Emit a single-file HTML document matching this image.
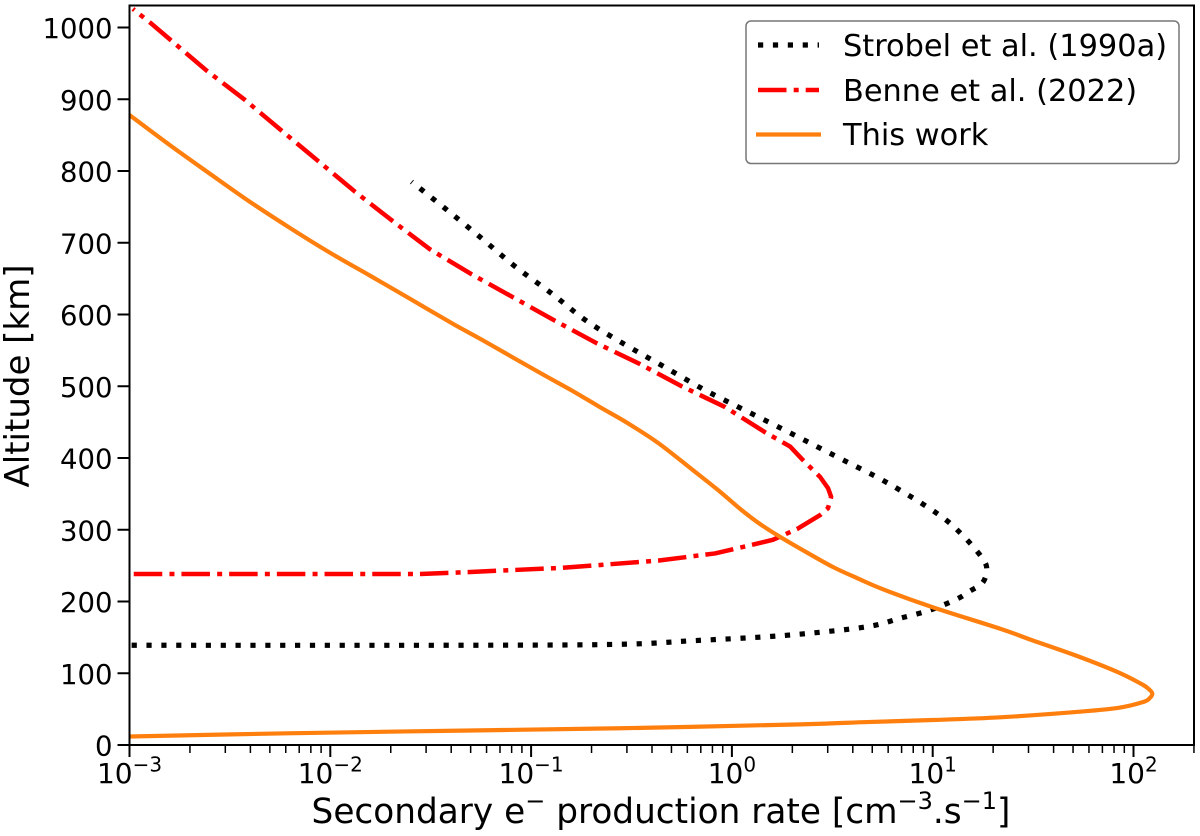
<!DOCTYPE html>
<html lang="en">
<head>
<meta charset="utf-8">
<title>Secondary electron production rate vs altitude</title>
<style>
html,body{margin:0;padding:0;background:#fff;}
svg{display:block;font-family:"DejaVu Sans","Liberation Sans",sans-serif;fill:#000;}
</style>
</head>
<body>
<svg id="chart" width="1200" height="836" viewBox="0 0 1200 836" xmlns="http://www.w3.org/2000/svg">
  <defs>
    <clipPath id="plot-clip"><rect x="129.5" y="5.5" width="1064.5" height="739.5"></rect></clipPath>
  </defs>
  <g id="series" clip-path="url(#plot-clip)"></g>
  <g id="ticks"></g>
  <rect x="129.5" y="5.5" width="1064.5" height="739.5" fill="none" stroke="#000" stroke-width="2"></rect>

  <text x="29" y="376" font-size="34" text-anchor="middle" transform="rotate(-90 29 376)">Altitude [km]</text>
  <text x="661" y="823" font-size="34.3" text-anchor="middle">Secondary e<tspan dy="-14" font-size="24">−</tspan><tspan dy="14"> production rate [cm</tspan><tspan dy="-14" font-size="24">−3</tspan><tspan dy="14">.s</tspan><tspan dy="-14" font-size="24">−1</tspan><tspan dy="14">]</tspan></text>

  <g>
    <rect x="746" y="21" width="433" height="142.5" rx="5" ry="5" fill="#fff" fill-opacity="0.9" stroke="#777" stroke-width="1.5"></rect>
    <line x1="758" y1="45" x2="819" y2="45" stroke="#000" stroke-width="5.2" stroke-dasharray="5.2 9.7"></line>
    <text x="843" y="56" font-size="30.4">Strobel et al. (1990a)</text>
    <line x1="758" y1="90" x2="819" y2="90" stroke="#f00" stroke-width="4.5" stroke-dasharray="28.5 7.2 5 7"></line>
    <text x="843" y="101" font-size="30.4">Benne et al. (2022)</text>
    <line x1="756" y1="134.5" x2="821" y2="134.5" stroke="#ff7f0e" stroke-width="4.2"></line>
    <text x="843" y="145" font-size="30.4">This work</text>
  </g>
</svg>
<script>
const strobelRate = [0.000957,0.00116,0.0408,0.274,0.640,1.51,2.96,4.97,6.87,9.70,13.2,15.2,17.7,18.6,17.5,13.9,10.6,5.98,3.26,1.77,0.960,0.708,0.454,0.294,0.189,0.127,0.0832,0.0568,0.0380,0.0254];
const strobelAltitude = [139,139,139,140.3,145.4,151,158,166,176.6,188,203.5,214,226,245,262,294,322,365,403,441,478,497,528,558,591,629,667,706,746,785];
const benneRate = [0.00105,0.0280,0.0485,0.144,0.429,0.824,1.26,1.60,2.11,2.75,3.01,3.12,3.01,2.75,2.26,1.95,1.46,0.925,0.562,0.348,0.212,0.132,0.0813,0.0506,0.0313,0.0205,0.0133,0.00869,0.00568,0.00376,0.00242,0.00129,0.00104];
const benneAltitude = [238.3,238.3,241,247,257,267,279,286,301,320.5,330,346,358,373.5,397,416,436,471,500,531,560,591,624,656,691,730,771,814,857,899,940,1005,1026];
const thisWorkRate = [0.001,0.00159,0.00252,0.00398,0.00630,0.00998,0.0158,0.0249,0.0408,0.0575,0.111,0.162,0.220,0.301,0.429,0.640,0.873,1.10,1.38,1.74,2.34,3.19,4.25,5.66,10.0,21.7,31.3,52.4,82.8,108,118,124,121,112,82.8,46.7,21.7,10,4.71,2.19,0.277,0.0408,0.00608,0.001];
const thisWorkAltitude = [878,836,796,757,720.6,686,654,622,587,564,518.5,493,471,449,421,383,353,329,308,290,269,248,232,217,192,162,146,124,102,86,79,72,66,60,51.5,45,38.6,34.8,32,28.8,23.3,19.9,16.3,11.8];
const yTickValues = [0,100,200,300,400,500,600,700,800,900,1000];
const xTickExponents = [-3,-2,-1,0,1,2];
const xTickLabels = ['−3','−2','−1','0','1','2'];
const xMinorMultipliers = [2,3,4,5,6,7,8,9];

const NS = 'http://www.w3.org/2000/svg';
function xScale(v){ return 129.5 + (Math.log10(v) + 3) * 200.8; }
function yScale(a){ return 745 - a * 0.7175; }

const seriesLayer = document.getElementById('series');
const tickLayer = document.getElementById('ticks');

function polylinePath(pts){
  return pts.map(function(p,i){ return (i ? 'L' : 'M') + p[0].toFixed(2) + ' ' + p[1].toFixed(2); }).join(' ');
}
function smoothPath(pts){
  let d = 'M' + pts[0][0].toFixed(2) + ' ' + pts[0][1].toFixed(2);
  for(let i = 0; i < pts.length - 1; i++){
    const p0 = pts[Math.max(i-1,0)], p1 = pts[i], p2 = pts[i+1], p3 = pts[Math.min(i+2,pts.length-1)];
    const c1x = p1[0] + (p2[0]-p0[0])/6, c1y = p1[1] + (p2[1]-p0[1])/6;
    const c2x = p2[0] - (p3[0]-p1[0])/6, c2y = p2[1] - (p3[1]-p1[1])/6;
    d += ' C' + c1x.toFixed(2) + ' ' + c1y.toFixed(2) + ' ' + c2x.toFixed(2) + ' ' + c2y.toFixed(2) + ' ' + p2[0].toFixed(2) + ' ' + p2[1].toFixed(2);
  }
  return d;
}
function drawSeries(rates, alts, color, width, dash, smooth, name){
  const pts = rates.map(function(r,i){ return [xScale(r), yScale(alts[i])]; });
  const p = document.createElementNS(NS,'path');
  p.setAttribute('d', smooth ? smoothPath(pts) : polylinePath(pts));
  p.setAttribute('fill','none');
  p.setAttribute('stroke',color);
  p.setAttribute('stroke-width',width);
  p.setAttribute('stroke-linejoin','round');
  if(dash) p.setAttribute('stroke-dasharray',dash);
  
  
  seriesLayer.appendChild(p);
}
drawSeries(strobelRate, strobelAltitude, '#000', 5.2, '5.2 9.65', true, 'strobel-series');
drawSeries(benneRate, benneAltitude, '#f00', 4.5, '28.5 7.2 5 7', false, 'benne-series');
drawSeries(thisWorkRate, thisWorkAltitude, '#ff7f0e', 4.2, null, true, 'this-work-series');

function tickLine(x1,y1,x2,y2,w,name){
  const l = document.createElementNS(NS,'line');
  l.setAttribute('x1',x1); l.setAttribute('y1',y1);
  l.setAttribute('x2',x2); l.setAttribute('y2',y2);
  l.setAttribute('stroke','#000');
  l.setAttribute('stroke-width',w);
  
  
  tickLayer.appendChild(l);
}

yTickValues.forEach(function(v){
  const y = yScale(v);
  tickLine(117.5,y,129.5,y,2,'y-tick');
  const t = document.createElementNS(NS,'text');
  t.setAttribute('x',112.5);
  t.setAttribute('y',y+10.5);
  t.setAttribute('font-size','27.5');
  t.setAttribute('text-anchor','end');
  t.textContent = String(v);
  
  
  tickLayer.appendChild(t);
});

xTickExponents.forEach(function(e,i){
  const x = xScale(Math.pow(10,e));
  tickLine(x,745,x,757,2,'x-major-tick');
  const t = document.createElementNS(NS,'text');
  t.setAttribute('x',x);
  t.setAttribute('y',783);
  t.setAttribute('font-size','28');
  t.setAttribute('text-anchor','middle');
  t.appendChild(document.createTextNode('10'));
  const s = document.createElementNS(NS,'tspan');
  s.setAttribute('dy','-11.5');
  s.setAttribute('font-size','20');
  s.textContent = xTickLabels[i];
  t.appendChild(s);
  
  
  tickLayer.appendChild(t);
  xMinorMultipliers.forEach(function(m){
    const v = m * Math.pow(10,e);
    if(v <= 200){
      const mx = xScale(v);
      tickLine(mx,745,mx,753,1.5,'x-minor-tick');
    }
  });
});
</script>
</body>
</html>
